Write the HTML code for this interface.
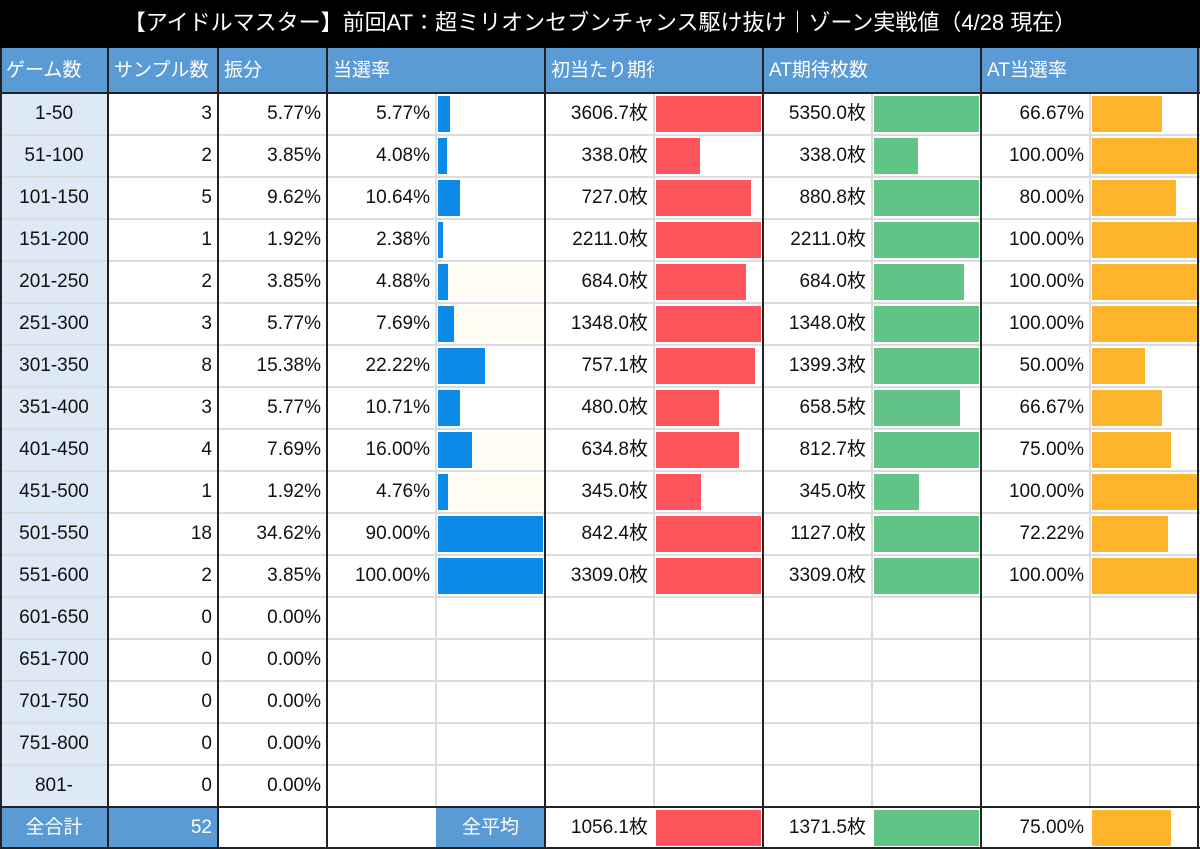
<!DOCTYPE html>
<html><head><meta charset="utf-8">
<style>
body{margin:0;width:1200px;height:849px;background:#fff;overflow:hidden;font-family:"Liberation Sans","Noto Sans CJK JP",sans-serif;}
#wrap{position:relative;width:1200px;height:849px;}
.c{position:absolute;box-sizing:border-box;font-size:19px;line-height:42px;white-space:nowrap;color:#111;}
.title{position:absolute;left:0;top:0;width:1200px;height:48px;background:#000;color:#fff;font-size:22px;line-height:46px;text-align:center;}
.bar{position:absolute;}
.vl{position:absolute;top:48px;width:2px;background:#222;}
.vg{position:absolute;width:2px;background:#ddd;}
.hl{position:absolute;left:0;width:1200px;height:2px;background:#ddd;}
</style></head><body>
<div id="wrap">
<div class="title">【アイドルマスター】前回AT：超ミリオンセブンチャンス駆け抜け｜ゾーン実戦値（4/28 現在）</div>
</div>
<script>
const zones=["1-50","51-100","101-150","151-200","201-250","251-300","301-350","351-400","401-450","451-500","501-550","551-600","601-650","651-700","701-750","751-800","801-"];
const samples=[3,2,5,1,2,3,8,3,4,1,18,2,0,0,0,0,0];
const shares=["5.77%","3.85%","9.62%","1.92%","3.85%","5.77%","15.38%","5.77%","7.69%","1.92%","34.62%","3.85%","0.00%","0.00%","0.00%","0.00%","0.00%"];
const winRate=[5.77,4.08,10.64,2.38,4.88,7.69,22.22,10.71,16.00,4.76,90.00,100.00];
const firstExp=[3606.7,338.0,727.0,2211.0,684.0,1348.0,757.1,480.0,634.8,345.0,842.4,3309.0];
const atExp=[5350.0,338.0,880.8,2211.0,684.0,1348.0,1399.3,658.5,812.7,345.0,1127.0,3309.0];
const atRate=[66.67,100.00,80.00,100.00,100.00,100.00,50.00,66.67,75.00,100.00,72.22,100.00];
const totalSamples=52, avgFirst=1056.1, avgAt=1371.5, avgRate=75.00;
const colX=[0,108,218,327,436,545,654,763,872,981,1090,1200];
const headers=["ゲーム数","サンプル数","振分","当選率","","初当たり期待枚数","","AT期待枚数","","AT当選率",""];
const W=document.getElementById('wrap');
const TOP=93,RH=42,BW=105;
function cell(col,y,h,text,align,bg,color,name){
  const d=document.createElement('div');d.className='c';
  d.style.left=colX[col]+'px';d.style.top=y+'px';d.style.width=(colX[col+1]-colX[col])+'px';d.style.height=h+'px';
  d.style.textAlign=align;d.style.padding=align==='right'?'0 6px 0 0':(align==='left'?'0 0 0 6px':'0');
  if(bg)d.style.background=bg;if(color)d.style.color=color;
  d.textContent=text;
  
  
  W.appendChild(d);return d;
}
function bar(col,y,val,max,color,name){
  const w=Math.min(val/max,1)*BW;
  const b=document.createElement('div');b.className='bar';
  b.style.left=(colX[col]+2)+'px';b.style.top=(y+3)+'px';b.style.height=(RH-6)+'px';b.style.width=w+'px';b.style.background=color;
  
  
  W.appendChild(b);
}
// header
headers.forEach((h,i)=>{const d=cell(i,48,44,h,'left','#5b9bd5','#fff','header-'+i);d.style.lineHeight='46px';});
const fmt=v=>v.toFixed(1)+'枚', pct=v=>v.toFixed(2)+'%';
const cream=[4,5,8,9];
zones.forEach((z,r)=>{
  const y=TOP+r*RH;
  cell(0,y,RH,z,'center','#dde9f5',null,'zone-label');
  cell(1,y,RH,String(samples[r]),'right',null,null,'sample-count');
  cell(2,y,RH,shares[r],'right',null,null,'share-value');
  if(r<winRate.length){
    cell(3,y,RH,pct(winRate[r]),'right',null,null,'win-rate-value');
    if(cream.includes(r)){const c=cell(4,y+3,RH-6,'','left','#fffcf3',null,'bar-bg');c.style.left='440px';}
    bar(4,y,winRate[r],50,'#0b8ae8','win-rate-bar');
    cell(5,y,RH,fmt(firstExp[r]),'right',null,null,'first-exp-value');
    bar(6,y,firstExp[r],800,'#ff545c','first-exp-bar');
    cell(7,y,RH,fmt(atExp[r]),'right',null,null,'at-exp-value');
    bar(8,y,atExp[r],800,'#62c386','at-exp-bar');
    cell(9,y,RH,pct(atRate[r]),'right',null,null,'at-rate-value');
    bar(10,y,atRate[r],100,'#ffb52b','at-rate-bar');
  }
});
const ty=TOP+17*RH;
cell(0,ty,849-ty,'全合計','center','#5b9bd5','#fff','total-label');
cell(1,ty,849-ty,String(totalSamples),'right','#5b9bd5','#fff','total-samples');
cell(4,ty,849-ty,'全平均','center','#5b9bd5','#fff','average-label');
cell(5,ty,849-ty,fmt(avgFirst),'right',null,null,'avg-first-exp');
bar(6,ty,avgFirst,800,'#ff545c','avg-first-bar');
cell(7,ty,849-ty,fmt(avgAt),'right',null,null,'avg-at-exp');
bar(8,ty,avgAt,800,'#62c386','avg-at-bar');
cell(9,ty,849-ty,pct(avgRate),'right',null,null,'avg-at-rate');
bar(10,ty,avgRate,100,'#ffb52b','avg-at-rate-bar');
// grid lines
for(let r=1;r<17;r++){const l=document.createElement('div');l.className='hl';l.style.top=(TOP+r*RH-1)+'px';W.appendChild(l);}
[436,654,872,1090].forEach(x=>{const l=document.createElement('div');l.className='vg';l.style.left=(x-1)+'px';l.style.top='92px';l.style.height=(ty-92)+'px';W.appendChild(l);});
[0,108,218,327,545,763,981,1198].forEach(x=>{const l=document.createElement('div');l.className='vl';l.style.left=(x===0?0:x-1)+'px';l.style.height='801px';W.appendChild(l);});
[[92,'#222'],[ty-1,'#222'],[847,'#222']].forEach(([y,c])=>{const l=document.createElement('div');l.className='hl';l.style.top=y+'px';l.style.background=c;W.appendChild(l);});
</script>
</body></html>
